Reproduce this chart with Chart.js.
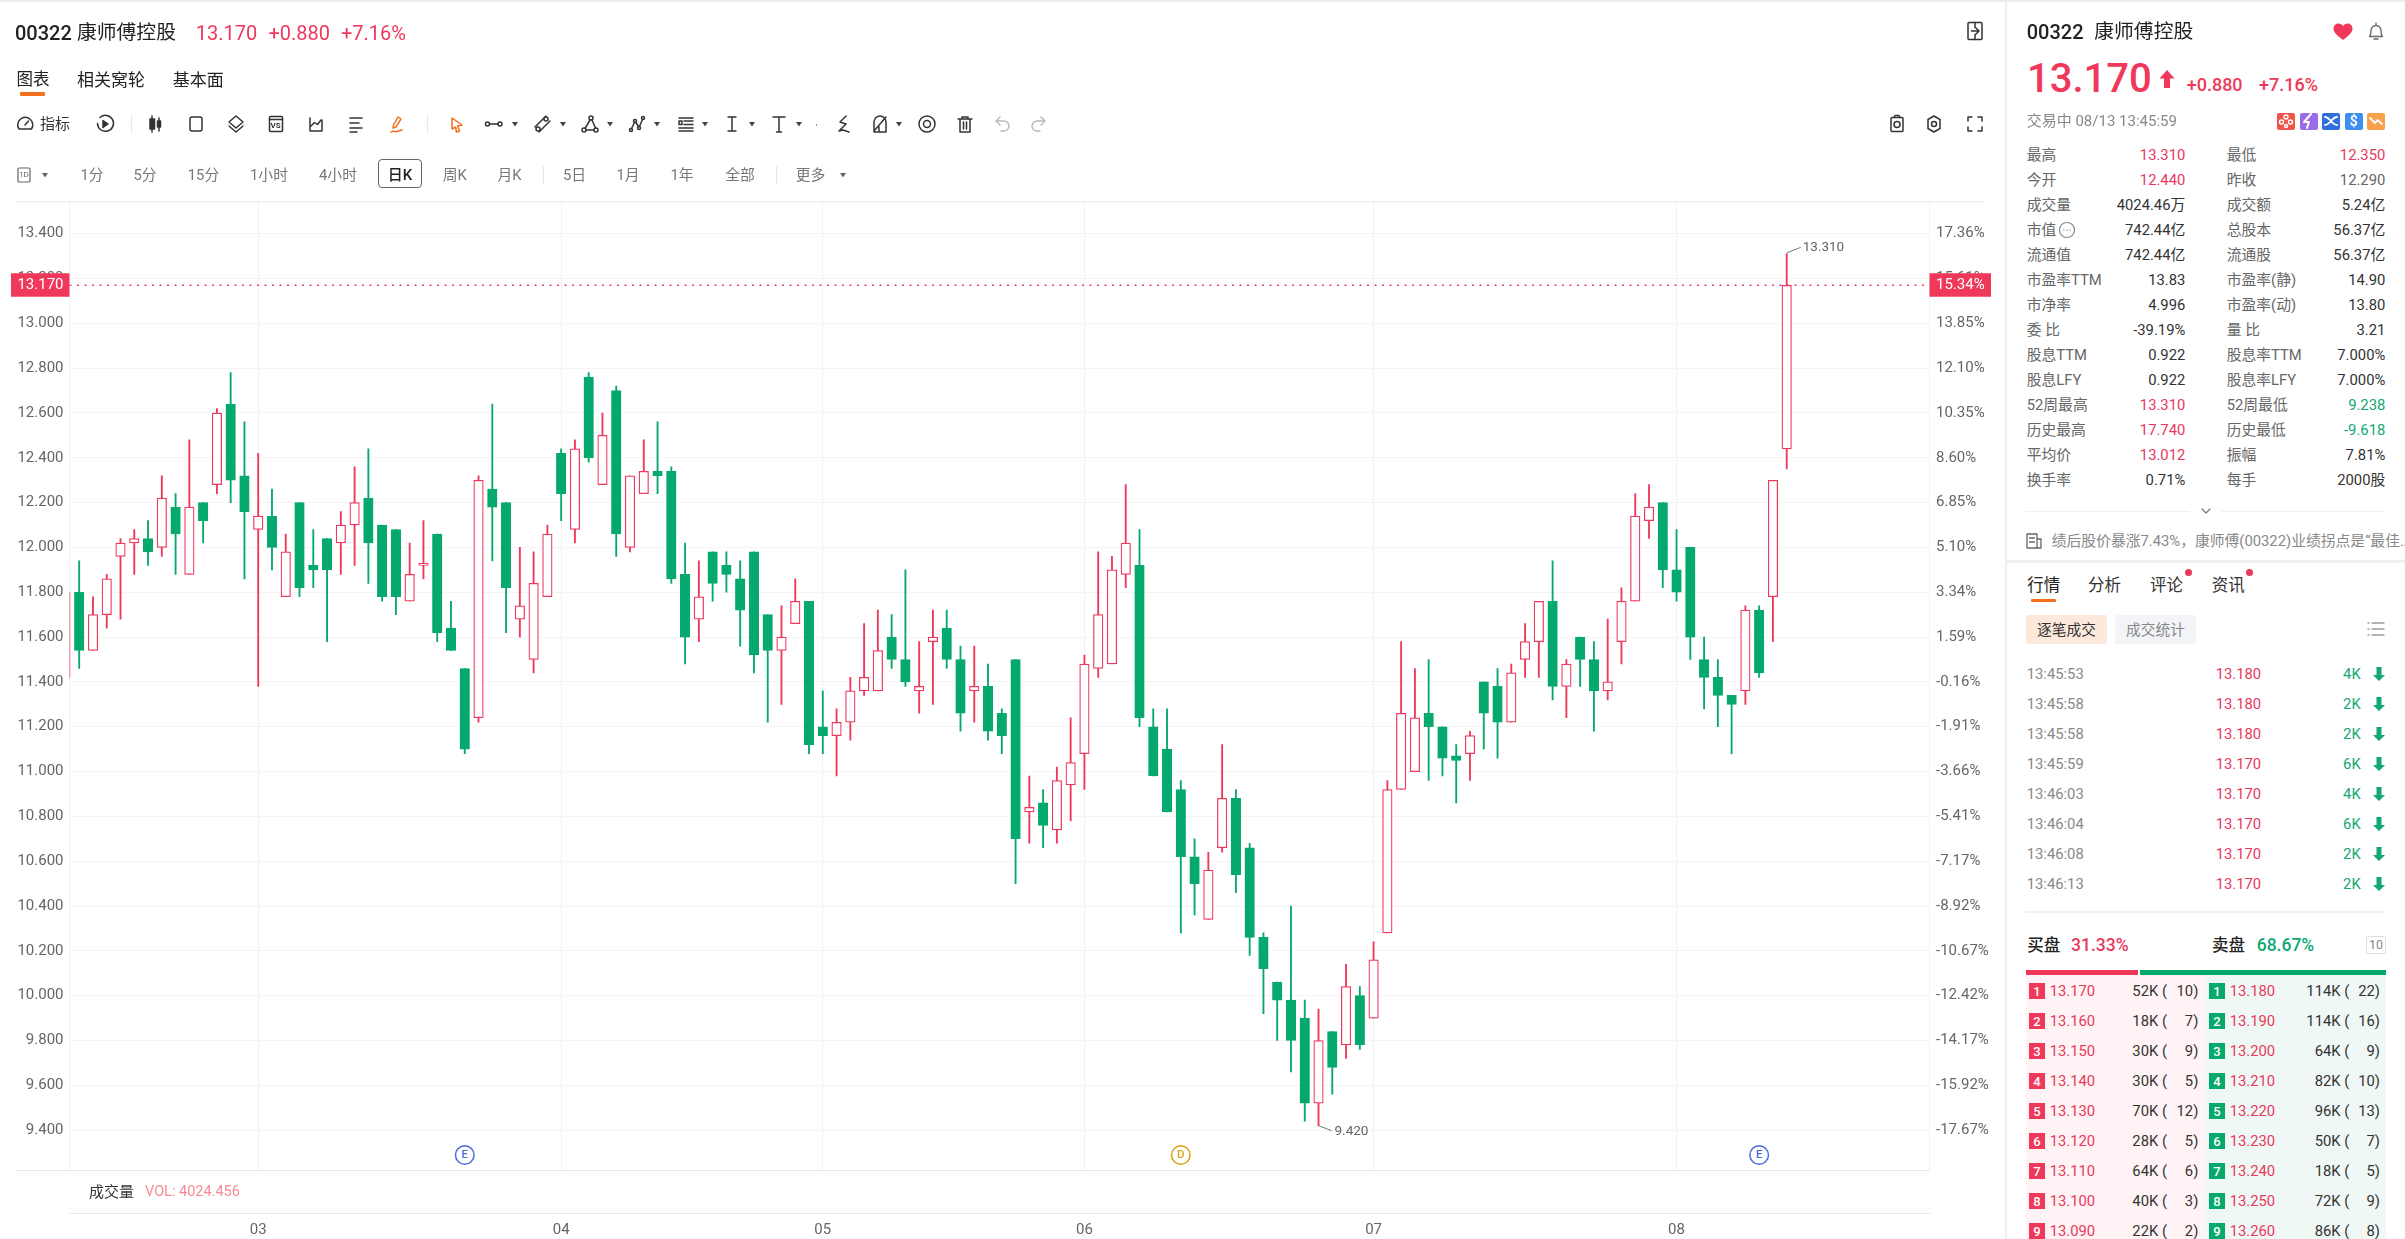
<!DOCTYPE html>
<html lang="zh"><head><meta charset="utf-8"><title>00322 康师傅控股</title>
<script src="https://cdn.jsdelivr.net/npm/chart.js@4/dist/chart.umd.min.js"></script>
<style>
html,body{margin:0;padding:0;background:#fff;width:2405px;height:1239px;overflow:hidden;font-family:Roboto,"Noto Sans CJK SC",sans-serif;}
#c{position:absolute;left:0;top:0;}
.t{position:absolute;white-space:nowrap;line-height:1;}
.b{position:absolute;}
svg{position:absolute;overflow:visible;}
</style></head><body>
<canvas id="c" width="2005" height="1239" style="width:2005px;height:1239px"></canvas>
<div id="ui"></div>
<script>
const opens=[11.42,11.80,11.54,11.70,11.96,12.02,12.04,12.00,12.18,11.88,12.20,12.28,12.64,12.32,12.08,12.14,11.78,12.20,11.92,12.04,12.02,12.10,12.22,12.10,12.08,11.76,11.92,12.06,11.64,11.46,11.24,12.26,12.20,11.68,11.50,11.78,12.42,12.08,12.76,12.28,12.70,12.00,12.24,12.34,12.34,11.88,11.68,11.98,11.92,11.86,11.98,11.70,11.54,11.66,11.76,11.20,11.16,11.22,11.36,11.36,11.60,11.50,11.36,11.58,11.64,11.50,11.36,11.38,11.26,11.50,10.82,10.86,10.74,10.94,11.08,11.46,11.48,11.88,11.92,11.20,11.10,10.92,10.62,10.34,10.66,10.88,10.66,10.26,10.06,9.98,9.90,9.52,9.84,9.78,10.00,9.90,10.28,10.92,11.00,11.26,11.20,11.07,11.08,11.40,11.38,11.22,11.50,11.58,11.76,11.38,11.60,11.50,11.36,11.58,11.76,12.12,12.20,11.90,12.00,11.50,11.42,11.34,11.36,11.72,11.78,12.44];
const highs=[11.80,11.94,11.78,11.88,12.04,12.08,12.12,12.32,12.24,12.48,12.20,12.62,12.78,12.56,12.42,12.26,12.06,12.20,12.08,12.04,12.16,12.36,12.44,12.10,12.08,12.02,12.12,12.06,11.76,11.46,12.32,12.64,12.20,12.00,11.98,12.10,12.44,12.48,12.78,12.60,12.72,12.32,12.48,12.56,12.36,12.02,11.94,11.98,11.98,11.94,11.98,11.70,11.74,11.86,11.76,11.36,11.28,11.42,11.66,11.72,11.70,11.90,11.58,11.72,11.72,11.56,11.56,11.48,11.28,11.50,10.98,10.92,11.02,11.24,11.52,11.98,11.96,12.28,12.08,11.28,11.28,10.96,10.70,10.64,11.12,10.92,10.68,10.28,10.06,10.40,9.98,9.94,9.84,10.14,10.04,10.24,10.96,11.58,11.46,11.50,11.20,11.12,11.18,11.40,11.46,11.48,11.66,11.76,11.94,11.50,11.60,11.58,11.68,11.82,12.24,12.28,12.20,12.08,12.00,11.60,11.50,11.34,11.74,11.74,12.30,13.31];
const lows=[11.42,11.46,11.54,11.64,11.68,11.88,11.92,11.96,11.88,11.88,12.02,12.24,12.20,11.86,11.38,11.90,11.78,11.78,11.82,11.58,11.88,11.92,11.84,11.76,11.70,11.76,11.86,11.58,11.54,11.08,11.22,11.94,11.62,11.60,11.44,11.78,12.12,12.02,12.38,12.28,11.96,11.98,12.24,12.24,11.84,11.48,11.58,11.76,11.80,11.56,11.44,11.22,11.30,11.66,11.08,11.08,10.98,11.14,11.34,11.36,11.46,11.38,11.26,11.30,11.46,11.18,11.22,11.14,11.08,10.50,10.68,10.66,10.68,10.78,10.92,11.42,11.48,11.82,11.20,10.98,10.82,10.28,10.36,10.34,10.64,10.46,10.18,9.92,9.80,9.66,9.44,9.42,9.56,9.72,9.76,9.90,10.28,10.92,11.00,10.96,10.98,10.86,10.96,11.10,11.06,11.22,11.42,11.42,11.32,11.24,11.38,11.18,11.32,11.48,11.76,12.04,11.82,11.76,11.50,11.28,11.20,11.08,11.30,11.42,11.58,12.35];
const closes=[11.80,11.54,11.70,11.86,12.02,12.04,11.98,12.22,12.06,12.18,12.12,12.60,12.30,12.16,12.14,12.00,11.98,11.82,11.90,11.90,12.10,12.20,12.02,11.78,11.78,11.88,11.92,11.62,11.54,11.10,12.30,12.18,11.82,11.74,11.84,12.06,12.24,12.44,12.40,12.50,12.06,12.32,12.34,12.32,11.86,11.60,11.78,11.84,11.88,11.72,11.52,11.54,11.60,11.76,11.12,11.16,11.22,11.36,11.42,11.54,11.50,11.40,11.38,11.60,11.50,11.26,11.38,11.18,11.16,10.70,10.84,10.76,10.96,11.04,11.48,11.70,11.90,12.02,11.24,10.98,10.82,10.62,10.50,10.56,10.88,10.54,10.26,10.12,9.98,9.80,9.52,9.80,9.68,10.04,9.78,10.16,10.92,11.26,11.24,11.20,11.06,11.05,11.16,11.26,11.22,11.44,11.58,11.76,11.38,11.48,11.50,11.36,11.40,11.76,12.14,12.18,11.90,11.80,11.60,11.42,11.34,11.30,11.72,11.44,12.30,13.17];
const monthStarts=[14,36,55,74,95,117];
const monthLabels=['03','04','05','06','07','08'];
const priceTicks=[9.4,9.6,9.8,10,10.2,10.4,10.6,10.8,11,11.2,11.4,11.6,11.8,12,12.2,12.4,12.6,12.8,13,13.2,13.4];
const pctLabels=['-17.67%','-15.92%','-14.17%','-12.42%','-10.67%','-8.92%','-7.17%','-5.41%','-3.66%','-1.91%','-0.16%','1.59%','3.34%','5.10%','6.85%','8.60%','10.35%','12.10%','13.85%','15.61%','17.36%'];
const lastPrice=13.17, lastPct='15.34%';
const eventIdx=[29,81,123], eventLetters=['E','D','E'], eventColors=['#4a6cdc','#d9a514','#4a6cdc'];
const xRange=[0.2956,135.37], yRange=[9.222,13.5428];

const RED='#ef385a', GREEN='#05a86d';
const isUp=i=>closes[i]>=opens[i];
const idx=opens.map((_,i)=>i);
Chart.defaults.font.family='Roboto,"Noto Sans CJK SC",sans-serif';
const notes={
 id:'notes',
 afterDraw(ch){
  const g=ch.ctx,xs=ch.scales.x,ys=ch.scales.y,a=ch.chartArea;
  const py=ys.getPixelForValue(lastPrice);
  g.save();
  g.fillStyle=RED;g.fillRect(11,py-12,a.left-11,23.5);g.fillRect(a.right,py-12,61.5,23.5);
  g.fillStyle='#fff';g.font='15px Roboto';g.textBaseline='middle';
  g.textAlign='right';g.fillText(lastPrice.toFixed(3),a.left-6,py+.5);
  g.textAlign='left';g.fillText(lastPct,a.right+6.5,py+.5);
  const hi=highs.indexOf(Math.max(...highs)),lo=lows.indexOf(Math.min(...lows));
  g.strokeStyle='#777';g.lineWidth=1;g.fillStyle='#666';g.font='13.5px Roboto';
  let x=xs.getPixelForValue(hi),y=ys.getPixelForValue(highs[hi]);
  g.beginPath();g.moveTo(x,y-1);g.lineTo(x+14,y-6.5);g.stroke();
  g.fillText(highs[hi].toFixed(3),x+16,y-6.5);
  x=xs.getPixelForValue(lo);y=ys.getPixelForValue(lows[lo]);
  g.beginPath();g.moveTo(x,y);g.lineTo(x+13,y+5);g.stroke();
  g.fillText(lows[lo].toFixed(3),x+16,y+5.5);
  eventIdx.forEach((e,i)=>{
   const ex=xs.getPixelForValue(e),ey=1155;
   g.beginPath();g.arc(ex,ey,9.3,0,Math.PI*2);g.fillStyle='#fff';g.fill();
   g.lineWidth=1.5;g.strokeStyle=eventColors[i];g.stroke();
   g.fillStyle=eventColors[i];g.font='500 11.5px Roboto';g.textAlign='center';g.fillText(eventLetters[i],ex,ey+.5);
  });
  g.restore();
 }
};
new Chart(document.getElementById('c'),{
 type:'bar',
 plugins:[notes],
 data:{datasets:[
  {type:'line',order:0,data:[{x:xRange[0],y:lastPrice},{x:xRange[1],y:lastPrice}],borderColor:RED,borderWidth:1.5,borderDash:[2,5.5],pointRadius:0,xAxisID:'x',yAxisID:'y'},
  {order:1,grouped:false,categoryPercentage:1,barPercentage:1,maxBarThickness:9.5,minBarLength:2,borderSkipped:false,
   data:idx.map(i=>({x:i,y:[opens[i],closes[i]]})),
   backgroundColor:idx.map(i=>isUp(i)?'#fff':GREEN),borderColor:idx.map(i=>isUp(i)?RED:GREEN),borderWidth:1.25,xAxisID:'x',yAxisID:'y'},
  {order:2,grouped:false,categoryPercentage:1,barPercentage:1,maxBarThickness:1.2,borderWidth:0,
   data:idx.map(i=>({x:i,y:[lows[i],highs[i]]})),
   backgroundColor:idx.map(i=>isUp(i)?RED:GREEN),xAxisID:'x',yAxisID:'y'}
 ]},
 options:{
  responsive:false,animation:false,events:[],
  layout:{padding:{top:201.7,left:0,right:0,bottom:0}},
  plugins:{legend:{display:false},tooltip:{enabled:false}},
  scales:{
   x:{type:'linear',min:xRange[0],max:xRange[1],offset:false,
    afterBuildTicks(s){s.ticks=monthStarts.map(v=>({value:v}));},
    afterFit(s){s.height=69;},
    grid:{offset:false,color:'#f2f2f3',lineWidth:1,drawTicks:false},border:{display:false},
    ticks:{autoSkip:false,maxRotation:0,padding:51,color:'#666',font:{size:15},callback:(v,i)=>monthLabels[i]}},
   y:{type:'linear',position:'left',min:yRange[0],max:yRange[1],
    afterBuildTicks(s){s.ticks=priceTicks.map(v=>({value:v}));},
    afterFit(s){s.width=69.5;},
    grid:{color:'#f4f4f5',lineWidth:1,drawTicks:false},border:{display:true,color:'#f2f2f3'},
    ticks:{autoSkip:false,padding:6,color:'#666',font:{size:15},callback:(v)=>Number(v).toFixed(3)}},
   y2:{type:'linear',position:'right',min:yRange[0],max:yRange[1],
    afterBuildTicks(s){s.ticks=priceTicks.map(v=>({value:v}));},
    afterFit(s){s.width=75.5;},
    grid:{display:false,drawTicks:false},border:{display:true,color:'#f2f2f3'},
    ticks:{autoSkip:false,padding:6.5,color:'#666',font:{size:15},callback:(v,i)=>pctLabels[i]}}
  }
 }
});

/* ---------- surrounding interface ---------- */
const ui=document.getElementById('ui');
function T(x,y,s,o={}){const e=document.createElement('div');e.className='t';e.textContent=s;
 const tx=o.a==='r'?'-100%':o.a==='c'?'-50%':'0';
 e.style.cssText=`left:${x}px;top:${y}px;transform:translate(${tx},-50%);font-size:${o.s||14.8}px;color:${o.c||'#333'};font-weight:${o.w||400};`;ui.appendChild(e);return e;}
function B(x,y,w,h,c,extra=''){const e=document.createElement('div');e.className='b';
 e.style.cssText=`left:${x}px;top:${y}px;width:${w}px;height:${h}px;background:${c};${extra}`;ui.appendChild(e);return e;}
function I(cx,cy,inner,c='#333',sw=1.5){const n=document.createElementNS('http://www.w3.org/2000/svg','svg');
 n.setAttribute('width',20);n.setAttribute('height',20);n.setAttribute('viewBox','0 0 20 20');
 n.style.cssText=`left:${cx-10}px;top:${cy-10}px;`;
 n.innerHTML=`<g fill="none" stroke="${c}" stroke-width="${sw}" stroke-linecap="round" stroke-linejoin="round">${inner}</g>`;ui.appendChild(n);}
const caret=(x,y,c='#444')=>I(x,y,`<path d="M7 8h6l-3 4.5z" fill="${c}" stroke="none"/>`);

B(0,0,2405,2,'#ececec');
B(2005,0,1.5,1239,'#eeeeee');
B(15,200.7,1970,2,'#f2f2f3');
B(16,1169.5,1914,1.5,'#e8e8e8');
B(69.5,1212.5,1860,1.5,'#e8e8e8');
T(89,1192,'成交量',{s:15,c:'#333'});
T(145,1192,'VOL: 4024.456',{s:14.5,c:'#f58a93'});

/* left header */
T(15,32.7,'00322',{s:20,w:500,c:'#222'});T(77,32.7,'康师傅控股',{s:19.8,c:'#222'});
T(195.8,32.7,'13.170',{s:20,c:RED});T(268.5,32.7,'+0.880',{s:20,c:RED});T(341,32.7,'+7.16%',{s:20,c:RED});
I(1974.5,31,'<rect x="3" y="1.5" width="14" height="17" rx="1"/><path d="M10 1.5v5M10 13.5v5M6.5 10h7.5M11 7l3 3-3 3"/>');
T(16.6,80,'图表',{s:16.5,c:'#222'});T(77,80,'相关窝轮',{s:17,c:'#222'});T(172.8,80,'基本面',{s:17,c:'#222'});
B(19.8,91.7,25.5,4,'#f3701c','border-radius:1px');

/* toolbar */
I(25,124,'<path d="M4 15a7.5 7.5 0 1 1 12.5 0zM10 11l3.5-4"/>');
T(40,124,'指标',{s:15,c:'#333'});
I(105,124,'<path d="M5 3.5a8 8 0 1 1-2.5 6"/><path d="M8 6.5l5 3.5-5 3.5z" fill="#333"/>');
B(131,115,1,18,'#e8e8e8');
I(156,124,'<rect x="4" y="5" width="4.5" height="10" fill="#333"/><path d="M6 2v16M13 4v13"/><rect x="11.5" y="7" width="3" height="6" fill="#333"/>');
I(196,124,'<rect x="4" y="3" width="12" height="14" rx="2"/>');
I(236,124,'<path d="M10 2l7 6-7 6-7-6zM3 12l7 6 7-6"/>');
I(275.5,124,'<rect x="3.5" y="2.5" width="13" height="15" rx="1"/><path d="M3.5 5.5h13"/>');T(275.5,126,'VS',{a:'c',s:8,w:700,c:'#333'});
I(316,124,'<path d="M4 4v13h12V6M5 12l3.5-3.5 3 2L15 6"/>');
I(356,124,'<path d="M4 4h12M4 9h9M4 14h12M4 18h7"/>');
I(397,124,'<path d="M11 3l3 2-5 8-3 1 .5-3zM4 18c3-2 5 1 7-1l4-1"/>','#f3701c');
B(427,115,1,18,'#e8e8e8');
I(457,125,'<path d="M5 3l10 7-4.500 1 2 5-3 1-1-5-3.500 2z"/>','#f3701c');
I(494,124,'<circle cx="3.500" cy="10" r="2"/><circle cx="16" cy="10" r="2"/><path d="M5.500 10h8.500"/>');caret(515,124);
I(542,124,'<circle cx="14" cy="5" r="2"/><circle cx="6" cy="15" r="2"/><path d="M3 13L14 2M7 18L18 7"/>');caret(562.5,124);
I(590,124,'<circle cx="4" cy="16" r="2"/><circle cx="16" cy="16" r="2"/><circle cx="11" cy="4" r="2"/><path d="M6 16h8M5 14.500L10 6M12 6l3.500 8"/>');caret(610,124);
I(636.5,124,'<circle cx="4" cy="16" r="1.500"/><circle cx="8" cy="7" r="1.500"/><circle cx="12" cy="14" r="1.500"/><circle cx="16" cy="4" r="1.500"/><path d="M4.500 14.500L7.500 8.500M9 8.500l2.500 4M12.500 12.500l3-7"/>');caret(657,124);
I(685.6,124,'<path d="M3 4h14M3 14h14M3 17h14M8 7h9M8 10.500h9M3 7h3v3.500H3z"/>');caret(705,124);
I(731.5,124,'<path d="M6 3h8M6 17h8M10 3v14"/>');caret(752,124);
I(779,124,'<path d="M4 3h12M10 3v15M7.500 18h5"/>');caret(799,124);
B(815.5,124,1.5,1.5,'#999');
I(843,124,'<path d="M13 2L7 8l6 2-7 7 4-1 6 2"/>');
I(880,124,'<path d="M4 18V8a6 6 0 0 1 12 0v10zM4 17L16 3M9 18v-5"/>');caret(899,124);
I(927,124,'<circle cx="10" cy="10" r="8"/><circle cx="10" cy="10" r="3.500"/>');
I(965,124,'<path d="M3 5h14M7 5V3h6v2M5 5v13h10V5M8.500 8v7M11.500 8v7"/>');
I(1002,124,'<path d="M8 3L4 7l4 4M4 7h8a5 5 0 0 1 0 10H9"/>','#bbb');
I(1039,124,'<path d="M12 3l4 4-4 4M16 7H8a5 5 0 0 0 0 10h3"/>','#bbb');
I(1897,124,'<rect x="4" y="3.500" width="12" height="14" rx="1"/><circle cx="10" cy="10.500" r="3"/><path d="M7 3.500l1-2h4l1 2"/>');
I(1934,124,'<path d="M10 2l6 3.500v9L10 18l-6-3.500v-9z"/><circle cx="10" cy="10" r="2.500"/>');
I(1974.5,124,'<path d="M3 7V3h4M13 3h4v4M17 13v4h-4M7 17H3v-4"/>');

/* period row */
I(24,174.5,'<rect x="4" y="3" width="12" height="14" rx="1"/>','#666',1.2);T(24,175,'1D',{a:'c',s:8,c:'#666'});
caret(45,174.5,'#666');
const periods=[[92,'1分'],[145,'5分'],[203.5,'15分'],[269,'1小时'],[338,'4小时'],[454.7,'周K'],[509.6,'月K'],[574.6,'5日'],[628,'1月'],[682,'1年'],[740,'全部'],[810.6,'更多']];
periods.forEach(p=>T(p[0],174.5,p[1],{a:'c',s:14.8,c:'#777'}));
B(377.5,159.3,44,29,'#fff','border:1.5px solid #666;border-radius:4px;box-sizing:border-box');
T(400,174.5,'日K',{a:'c',s:15,c:'#222',w:500});
B(543,166,1,17,'#e6e6e6');B(775.5,166,1,17,'#e6e6e6');
caret(843,174.5,'#666');

/* right panel */
const LBL='#666',VAL='#333',UP='#e8395c',DN='#12a874';
T(2026.7,32,'00322',{s:20,w:500,c:'#222'});T(2094.3,32,'康师傅控股',{s:19.8,c:'#222'});
I(2343,31.5,'<path d="M10 18C5 14 .5 11 .5 6.500 .5 3.500 3 1.500 5.500 1.500c2 0 3.500 1 4.500 2.500 1-1.500 2.500-2.500 4.500-2.500 2.500 0 5 2 5 5C19.500 11 15 14 10 18z" fill="#ef385a" stroke="none"/>');
I(2376,31,'<path d="M3.500 15.500c1.500-1.500 1.500-3 1.500-6a5 5 0 0 1 10 0c0 3 0 4.500 1.500 6zM8 18h4M10 2v2"/>','#666',1.3);
T(2027,79,'13.170',{s:40,w:500,c:'#ef385a'});
I(2166.7,79,'<path d="M10 1L2.500 9.500H7V19h6V9.500h4.500z" fill="#ef385a" stroke="none"/>');
T(2186.7,85,'+0.880',{s:18,w:500,c:'#ef385a'});T(2259,85,'+7.16%',{s:18,w:500,c:'#ef385a'});
T(2026.7,121.4,'交易中 08/13 13:45:59',{s:15,c:'#888'});
[[2277.3,'#f0554a'],[2300,'#9a6ce8'],[2322.3,'#2f6fe0'],[2345,'#3f8ef0'],[2367.3,'#f7a24b']].forEach(b=>B(b[0],112.5,17.6,17.8,b[1],'border-radius:2px'));
I(2286,121.4,'<circle cx="10" cy="6" r="2"/><circle cx="5.500" cy="11" r="2"/><circle cx="14.500" cy="11" r="2"/><circle cx="10" cy="15" r="1.500"/>','#fff',1.4);
I(2309,121.4,'<path d="M12 3L5 11h5l-2 6" stroke-width="2"/>','#fff',2);
I(2331,121.4,'<path d="M4 6c5 0 7 8 12 8M4 14c5 0 7-8 12-8"/>','#fff',1.8);
T(2353.8,121.4,'$',{a:'c',s:14,w:700,c:'#fff'});
I(2376,121.4,'<path d="M4 7l5 5 2.500-3 4.500 4"/>','#fff',1.8);

const statRows=[
['最高','13.310',UP,'最低','12.350',UP],['今开','12.440',UP,'昨收','12.290',LBL],
['成交量','4024.46万',VAL,'成交额','5.24亿',VAL],['市值','742.44亿',VAL,'总股本','56.37亿',VAL],
['流通值','742.44亿',VAL,'流通股','56.37亿',VAL],['市盈率TTM','13.83',VAL,'市盈率(静)','14.90',VAL],
['市净率','4.996',VAL,'市盈率(动)','13.80',VAL],['委 比','-39.19%',VAL,'量 比','3.21',VAL],
['股息TTM','0.922',VAL,'股息率TTM','7.000%',VAL],['股息LFY','0.922',VAL,'股息率LFY','7.000%',VAL],
['52周最高','13.310',UP,'52周最低','9.238',DN],['历史最高','17.740',UP,'历史最低','-9.618',DN],
['平均价','13.012',UP,'振幅','7.81%',VAL],['换手率','0.71%',VAL,'每手','2000股',VAL]];
statRows.forEach((r,i)=>{const y=154.6+25*i;
 T(2026.7,y,r[0],{c:LBL});T(2185.3,y,r[1],{a:'r',c:r[2]});
 T(2226.7,y,r[3],{c:LBL});T(2385.3,y,r[4],{a:'r',c:r[5]});});
I(2067,229.5,'<circle cx="10" cy="10" r="7.500"/><path d="M6.500 10h.5M10 10h.5M13 10h.5"/>','#888',1.2);
B(2025,510.5,165,1,'#f0f0f0');B(2221,510.5,164,1,'#f0f0f0');
I(2206,511,'<path d="M6 8l4 4 4-4"/>','#777',1.2);
I(2033.5,541,'<path d="M3 3h10v14H3zM13 8h4v9h-4M5.500 7h5M5.500 11h5"/>','#666',1.3);
T(2051.7,541,'绩后股价暴涨7.43%，康师傅(00322)业绩拐点是“最佳…',{s:14.8,c:'#888'});
B(2006,560,399,2.5,'#f0f0f0');

T(2027.3,586,'行情',{s:16.5,c:'#222'});T(2088,586,'分析',{s:16.5,c:'#333'});T(2150,586,'评论',{s:16.5,c:'#333'});T(2211.7,586,'资讯',{s:16.5,c:'#333'});
B(2031,598.5,25,3.5,'#f3701c','border-radius:1px');
B(2184.5,569,7,7,'#e8395c','border-radius:50%');B(2246,569,7,7,'#e8395c','border-radius:50%');
B(2026,614.6,81,29,'#fde9dc','border-radius:2px');T(2066.5,629.5,'逐笔成交',{a:'c',s:14.7,c:'#333'});
B(2115,614.6,81,29,'#f2f4f7','border-radius:2px');T(2155.5,629.5,'成交统计',{a:'c',s:14.7,c:'#888'});
I(2376,628.6,'<path d="M6 4h12M6 10h12M6 16h12M2 4h1M2 10h1M2 16h1"/>','#666',1.2);

const tradeTimes=['13:45:53','13:45:58','13:45:58','13:45:59','13:46:03','13:46:04','13:46:08','13:46:13'];
const tradePrices=['13.180','13.180','13.180','13.170','13.170','13.170','13.170','13.170'];
const tradeVols=['4K','2K','2K','6K','4K','6K','2K','2K'];
tradeTimes.forEach((t,i)=>{const y=673.5+30*i+(i>0?.2:0);
 T(2026.7,y,t,{c:'#888'});T(2215.7,y,tradePrices[i],{c:UP});T(2360.7,y,tradeVols[i],{a:'r',c:DN});
 I(2378.7,y,'<path d="M10 17l-6-6h3.500V3h5v8H16z" fill="#12a874" stroke="none"/>');});
B(2025,911,360,2,'#f0f0f0');

T(2027.3,946,'买盘',{s:16.5,w:500,c:'#222'});T(2071,946,'31.33%',{s:17.5,w:500,c:'#e8395c'});
T(2212,946,'卖盘',{s:16.5,w:500,c:'#222'});T(2256.7,946,'68.67%',{s:17.5,w:500,c:'#12a874'});
B(2366.3,935.8,19.4,18.4,'#fff','border:1px solid #ddd;border-radius:2px;box-sizing:border-box');T(2376,945.4,'10',{a:'c',s:12.5,c:'#888'});
B(2026,970,112,4.5,'#ef385a');B(2140,970,246,4.5,'#05a86d');
B(2026,974.5,179,265,'#fff3f5');B(2205,974.5,181,265,'#f0f8f5');
const bidPrices=['13.170','13.160','13.150','13.140','13.130','13.120','13.110','13.100','13.090'];
const bidQty=['52K','18K','30K','30K','70K','28K','64K','40K','22K'];
const bidCount=[10,7,9,5,12,5,6,3,2];
const askPrices=['13.180','13.190','13.200','13.210','13.220','13.230','13.240','13.250','13.260'];
const askQty=['114K','114K','64K','82K','96K','50K','18K','72K','86K'];
const askCount=[22,16,9,10,13,7,5,9,8];
bidPrices.forEach((p,i)=>{const y=991+30*i;
 B(2029,y-8,16,16,'#ef385a');T(2037,y,String(i+1),{a:'c',s:13,c:'#fff',w:500});
 T(2049.7,y,p,{c:UP});T(2167,y,bidQty[i]+' (',{a:'r',c:VAL});T(2198.3,y,bidCount[i]+')',{a:'r',c:VAL});
 B(2209,y-8,16,16,'#05a86d');T(2217,y,String(i+1),{a:'c',s:13,c:'#fff',w:500});
 T(2229.7,y,askPrices[i],{c:UP});T(2349.3,y,askQty[i]+' (',{a:'r',c:VAL});T(2380,y,askCount[i]+')',{a:'r',c:VAL});});
</script>
</body></html>
